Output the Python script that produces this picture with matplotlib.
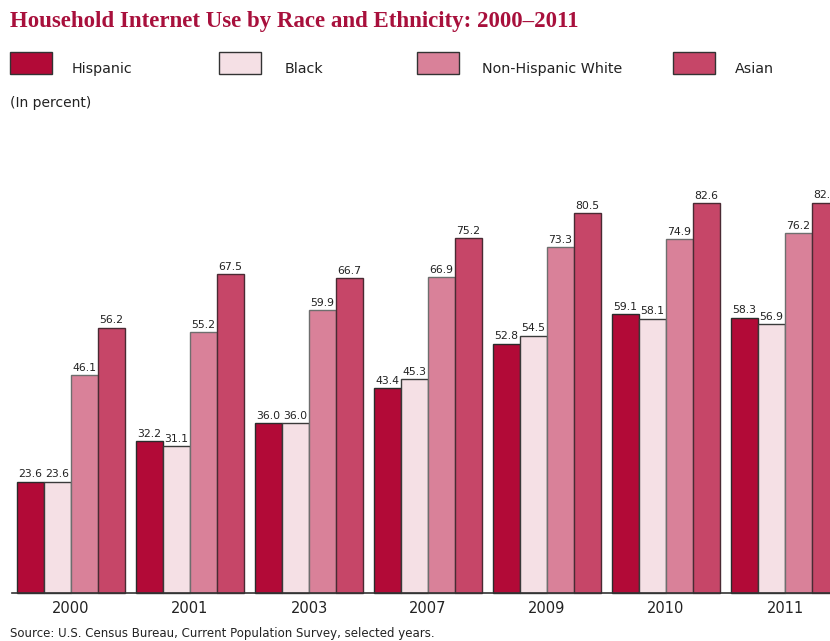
import numpy as np
import matplotlib.pyplot as plt
from matplotlib.patches import Rectangle

years = ["2000", "2001", "2003", "2007", "2009", "2010", "2011"]
groups = ["Hispanic", "Black", "Non-Hispanic White", "Asian"]
hispanic = [23.6, 32.2, 36.0, 43.4, 52.8, 59.1, 58.3]
black = [23.6, 31.1, 36.0, 45.3, 54.5, 58.1, 56.9]
white = [46.1, 55.2, 59.9, 66.9, 73.3, 74.9, 76.2]
asian = [56.2, 67.5, 66.7, 75.2, 80.5, 82.6, 82.7]

colors = ["#b20a37", "#f5e0e5", "#d98199", "#c64668"]
edges = ["#2b2b2b", "#3a3a3a", "#6e6e6e", "#4a2a33"]
title_red = "#a8103c"

fig = plt.figure(figsize=(8.3, 6.41), dpi=100)
W, H = 830, 641

# axes: left edge at 12px, baseline at 593px, extends past the right border
ax = fig.add_axes([12 / W, 48 / H, (850 - 12) / W, 472 / H])
w = 27 / 119
x = np.arange(len(years))
left = -2 * w - 5 / 119
ax.set_xlim(left, left + (850 - 12) / 119)
ax.set_ylim(0, 100)

for k, vals in enumerate([hispanic, black, white, asian]):
    pos = x + (k - 1.5) * w
    ax.bar(pos, vals, width=w, color=colors[k], edgecolor=edges[k], linewidth=1.0, clip_on=False)
    for xp, v in zip(pos, vals):
        ax.text(xp, v + 0.5, f"{v:.1f}", ha="center", va="bottom", fontsize=7.8, color="#222222")

for s in ["top", "right", "left"]:
    ax.spines[s].set_visible(False)
ax.spines["bottom"].set_color("#333333")
ax.spines["bottom"].set_linewidth(1.2)
ax.set_yticks([])
ax.set_xticks(x)
ax.set_xticklabels(years, fontsize=10.5, color="#222222")
ax.tick_params(axis="x", length=0, pad=6)

fig.text(10 / W, 1 - 22 / H, "Household Internet Use by Race and Ethnicity: 2000\u20132011",
         fontsize=16.5, fontweight="bold", family="Liberation Serif", color=title_red,
         ha="left", va="center")

# legend boxes along the top
box_x = [10, 219, 417, 673]
text_x = [72, 285, 482, 735]
for k, g in enumerate(groups):
    fig.patches.append(Rectangle((box_x[k] / W, 1 - 74 / H), 42 / W, 22 / H,
                                 transform=fig.transFigure, facecolor=colors[k],
                                 edgecolor="#333333", linewidth=1.0))
    fig.text(text_x[k] / W, 1 - 69 / H, g, fontsize=10.3, color="#222222", ha="left", va="center")

fig.text(10 / W, 1 - 103 / H, "(In percent)", fontsize=10, color="#222222", ha="left", va="center")
fig.text(10 / W, 1 - 633 / H, "Source: U.S. Census Bureau, Current Population Survey, selected years.",
         fontsize=8.5, color="#222222", ha="left", va="center")

fig.savefig("out.png", dpi=100)
